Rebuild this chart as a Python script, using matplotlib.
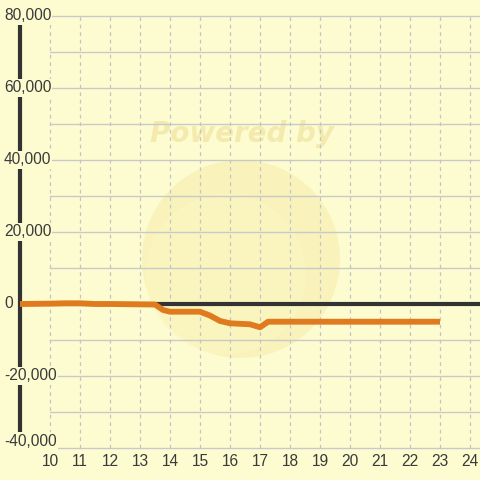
import matplotlib
matplotlib.use("Agg")
import matplotlib.pyplot as plt
from matplotlib.patches import Circle

hours = [9, 10, 10.5, 11, 11.5, 12, 13, 13.5, 13.77, 14, 15, 15.33, 15.67, 16, 16.67, 17, 17.27, 18, 19, 20, 21, 22, 23]
values = [0, 100, 200, 200, 0, 0, -100, -150, -1670, -2140, -2140, -3200, -4720, -5360, -5640, -6470, -4920,
          -4920, -4920, -4920, -4920, -4920, -4920]
x_ticks = list(range(10, 25))
y_ticks = [-40000, -20000, 0, 20000, 40000, 60000, 80000]
y_grid = list(range(-40000, 80001, 10000))

BG = '#FCFCD0'
TXT = '#3a3a3a'
plt.rcParams['font.family'] = ['Liberation Sans', 'DejaVu Sans']

fig = plt.figure(figsize=(4.8, 4.8), dpi=100, facecolor=BG)
ax = fig.add_axes([0, 0, 1, 1])
ax.set_facecolor(BG)
ax.axis('off')

# pixel mapping: x px = 20 + (h-9)*30 ; y px = 304 - v/20000*72
px_per_h = 30.0
x0 = 9 - 20 / px_per_h
x1 = x0 + 480 / px_per_h
ypx = 72 / 20000.0
ytop = 304 / ypx
ybot = -(480 - 304) / ypx
ax.set_xlim(x0, x1)
ax.set_ylim(ybot, ytop)

# watermark (under grid)
ax.add_patch(Circle((241 / 480, 1 - 259 / 480), 99 / 480, transform=fig.transFigure,
                    facecolor='#F8EEAE', edgecolor='none', alpha=0.6, zorder=0.2))
ax.add_patch(Circle((226 / 480, 1 - 274 / 480), 80 / 480, transform=fig.transFigure,
                    facecolor='#FCF8C4', edgecolor='none', alpha=0.5, zorder=0.3))
ax.text(242 / 480, 1 - 134 / 480, 'Powered by', transform=fig.transFigure, ha='center', va='center',
        fontsize=20, fontweight='bold', style='italic', color='#F4EAAE', zorder=0.5, family='DejaVu Sans')

# grid
for v in y_grid:
    ax.plot([10, x1], [v, v], color='#C9C9C9', lw=1.0, zorder=1)
for h in x_ticks:
    ax.plot([h, h], [-40000, 80000], color='#C4C4C4', lw=0.9, ls=(0, (3, 3)), zorder=1)

# zero line and y axis
ax.plot([9, x1], [0, 0], color='#333333', lw=3, zorder=2, solid_capstyle='butt')
ax.plot([9, 9], [-40000, 80000], color='#333333', lw=3, zorder=2, solid_capstyle='butt')

# series
ax.plot(hours, values, color='#DF7A1E', lw=4.2, zorder=3, solid_capstyle='butt', solid_joinstyle='round')

# y labels
for v in y_ticks:
    yp = v
    if v == -40000:
        yp = v + 7 / ypx
    ax.text(x0 + 4 / px_per_h, yp, f'{v:,}', ha='left', va='center', fontsize=11.2, color=TXT, zorder=4,
            bbox=dict(facecolor=BG, edgecolor='none', pad=0.8))

# x labels
for h in x_ticks:
    ax.text(h, ybot + 18 / ypx, str(h), ha='center', va='center', fontsize=11.2, color=TXT, zorder=4)

fig.savefig('out.png', dpi=100, facecolor=BG)
